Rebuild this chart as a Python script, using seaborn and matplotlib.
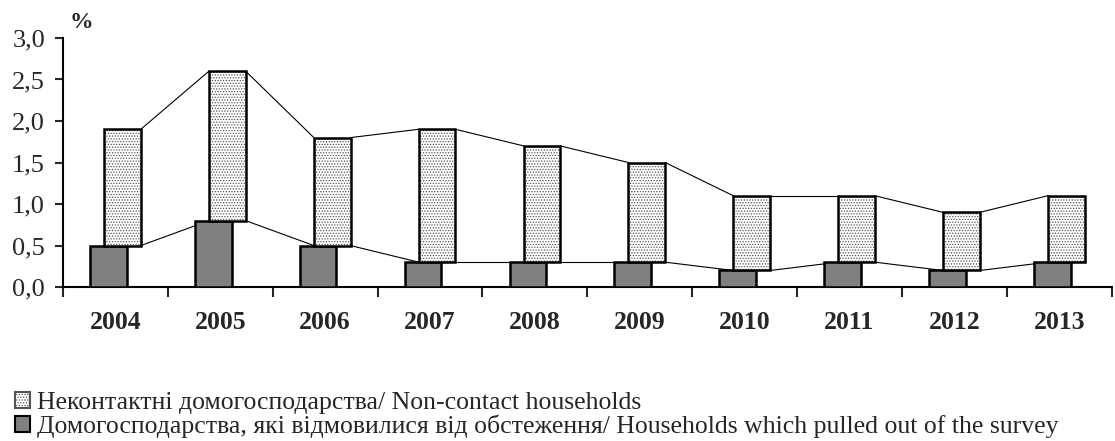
import numpy as np
import pandas as pd
import seaborn as sns
import matplotlib.pyplot as plt
from matplotlib.patches import Patch
from matplotlib.ticker import FixedLocator, FuncFormatter

YEARS = ['2004', '2005', '2006', '2007', '2008', '2009', '2010', '2011', '2012', '2013']
# households which pulled out of the survey (bottom, grey)
refused = [0.5, 0.8, 0.5, 0.3, 0.3, 0.3, 0.2, 0.3, 0.2, 0.3]
# non-contact households (top, dotted), stacked on the refused share
non_contact = [1.4, 1.8, 1.3, 1.6, 1.4, 1.2, 0.9, 0.8, 0.7, 0.8]

LABEL_NONCONTACT = 'Неконтактні домогосподарства/ Non-contact households'
LABEL_REFUSED = 'Домогосподарства, які відмовилися від обстеження/ Households which pulled out of the survey'

sns.set_style('ticks')
plt.rcParams['font.family'] = ['Liberation Serif', 'DejaVu Serif']
plt.rcParams['hatch.linewidth'] = 0.6

BAR_W = 0.35
OFFSET = 0.067

pos = np.arange(len(YEARS))
refused_arr = np.array(refused)
total = refused_arr + np.array(non_contact)

fig = plt.figure(figsize=(11.15, 4.41), dpi=100)
ax = fig.add_axes([0.0565, 0.349, 0.9405, 0.565])

# grey bars, shifted slightly left
df = pd.DataFrame({'x': pos - OFFSET, 'refused': refused})
sns.barplot(data=df, x='x', y='refused', native_scale=True, width=BAR_W,
            color='#808080', saturation=1, edgecolor='black', linewidth=1.8,
            ax=ax, zorder=3)

# dotted bars, shifted slightly right and stacked
ax.bar(pos + OFFSET, non_contact, width=BAR_W, bottom=refused_arr,
       color='white', edgecolor='#555555', hatch='......', linewidth=0, zorder=3)
ax.bar(pos + OFFSET, non_contact, width=BAR_W, bottom=refused_arr,
       fill=False, edgecolor='black', linewidth=1.8, zorder=4)

# series lines between neighbouring bars
for i in range(len(YEARS) - 1):
    x0 = pos[i] + OFFSET + BAR_W / 2
    x1 = pos[i + 1] + OFFSET - BAR_W / 2
    ax.plot([x0, x1], [total[i], total[i + 1]], color='black', lw=0.8, zorder=2)
    ax.plot([x0, x1], [refused_arr[i], refused_arr[i + 1]], color='black', lw=0.8, zorder=2)

ax.set_xlim(-0.5, len(YEARS) - 0.5)
ax.set_ylim(0, 3.0)
ax.set_yticks(np.arange(0, 3.01, 0.5))
ax.yaxis.set_major_formatter(FuncFormatter(lambda v, p: f'{v:.1f}'.replace('.', ',')))

ax.xaxis.set_major_locator(FixedLocator(np.arange(-0.5, len(YEARS), 1.0)))
ax.xaxis.set_major_formatter(FuncFormatter(lambda v, p: ''))
ax.xaxis.set_minor_locator(FixedLocator(pos))
ax.set_xticklabels(YEARS, minor=True, fontweight='bold', fontsize=18.5)
ax.tick_params(axis='x', which='minor', length=0, pad=17)
ax.tick_params(axis='x', which='major', length=7, width=1.5, direction='out')
ax.tick_params(axis='y', length=6, width=1.5, direction='out', labelsize=19, pad=7)
ax.set_xlabel('')
ax.set_ylabel('')

for side in ['top', 'right']:
    ax.spines[side].set_visible(False)
for side in ['left', 'bottom']:
    ax.spines[side].set_linewidth(1.5)
    ax.spines[side].set_color('black')

fig.text(0.062, 0.95, '%', fontsize=17, fontweight='bold', va='center', ha='left')

handles = [
    Patch(facecolor='white', edgecolor='#555555', hatch='......', linewidth=1.5, label=LABEL_NONCONTACT),
    Patch(facecolor='#808080', edgecolor='black', linewidth=1.5, label=LABEL_REFUSED),
]
fig.legend(handles=handles, loc='upper left', bbox_to_anchor=(0.0135, 0.112),
           frameon=False, fontsize=18.5, handlelength=0.58, handleheight=0.58,
           handletextpad=0.27, labelspacing=0.04, borderaxespad=0, borderpad=0)

fig.savefig('out.png', dpi=100, facecolor='white')
